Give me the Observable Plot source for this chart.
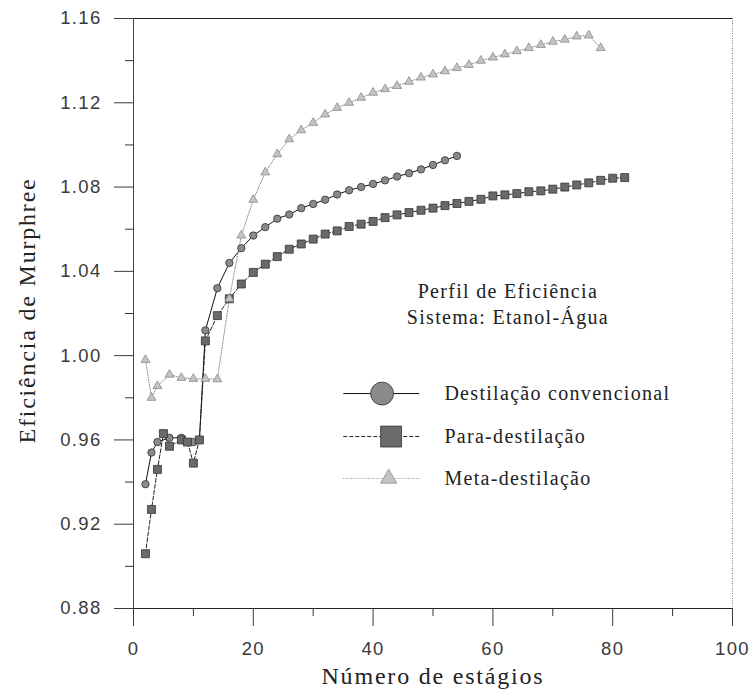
<!DOCTYPE html>
<html><head><meta charset="utf-8">
<script src="https://cdn.jsdelivr.net/npm/d3@7"></script>
<script src="https://cdn.jsdelivr.net/npm/@observablehq/plot@0.6"></script>
<style>
body{margin:0;background:#fff}
#chart svg{display:block}
#chart g[font-size="18.5"] text{letter-spacing:1.3px}
#chart g[font-size="20"] text{letter-spacing:1.3px}
#chart g[font-size="24"] text{letter-spacing:1.8px}
</style>
</head><body><div id="chart"></div>
<script>
// ---- data ----
const convStages = [2,3,4,6,8,10,11,12,14,16,18,20,22,24,26,28,30,32,34,36,38,40,42,44,46,48,50,52,54];
const convEff = [0.939,0.954,0.959,0.961,0.961,0.959,0.960,1.012,1.032,1.044,1.051,1.057,1.061,1.065,1.067,1.070,1.072,1.074,1.0765,1.0785,1.0800,1.0815,1.0832,1.0850,1.0866,1.0884,1.0905,1.0927,1.0948];

const paraStages = [2,3,4,5,6,8,9,10,11,12,14,16,18,20,22,24,26,28,30,32,34,36,38,40,42,44,46,48,50,52,54,56,58,60,62,64,66,68,70,72,74,76,78,80,82];
const paraEff = [0.906,0.927,0.946,0.963,0.957,0.960,0.959,0.949,0.960,1.007,1.019,1.027,1.034,1.0395,1.0434,1.047,1.0505,1.053,1.0553,1.0577,1.0592,1.0613,1.0624,1.0637,1.0655,1.0668,1.0679,1.069,1.070,1.0712,1.0722,1.0732,1.0742,1.0758,1.0763,1.0769,1.0778,1.0782,1.079,1.080,1.081,1.082,1.0832,1.0842,1.0845];

const metaStages = [2,3,4,6,8,10,12,14,16,18,20,22,24,26,28,30,32,34,36,38,40,42,44,46,48,50,52,54,56,58,60,62,64,66,68,70,72,74,76,78];
const metaEff = [0.998,0.980,0.9856,0.991,0.9895,0.989,0.989,0.9888,1.027,1.057,1.074,1.087,1.0956,1.1027,1.107,1.1105,1.1145,1.1176,1.120,1.1224,1.1248,1.1265,1.128,1.130,1.132,1.1335,1.135,1.1365,1.138,1.140,1.1415,1.143,1.1445,1.146,1.1475,1.149,1.150,1.1515,1.152,1.146];

const yMajorTicks = [0.88,0.92,0.96,1.00,1.04,1.08,1.12,1.16];
const yMinorTicks = [0.90,0.94,0.98,1.02,1.06,1.10,1.14];
const xMajorTicks = [0,20,40,60,80,100];
const xMinorTicks = [10,30,50,70,90];

const seriesNames = ["Destilação convencional","Para-destilação","Meta-destilação"];
const annotationLines = ["Perfil de Eficiência","Sistema: Etanol-Água"];
const xTitle = "Número de estágios";
const yTitle = "Eficiência de Murphree";

// ---- build ----
const zip = (xs, ys) => xs.map((x, i) => ({x, y: ys[i]}));
const conv = zip(convStages, convEff);
const para = zip(paraStages, paraEff);
const meta = zip(metaStages, metaEff);

const serif = "'Liberation Serif','Times New Roman',serif";
const sans = "'Liberation Sans',Arial,sans-serif";

const styles = [
  {stroke: "#111", dash: null, symbol: "circle", r: 3.7, fill: "#8a8a8a", mstroke: "#333", lr: 11.5},
  {stroke: "#222", dash: "4,2", symbol: "square", r: 4.5, fill: "#6a6a6a", mstroke: "#333", lr: 11.8},
  {stroke: "#8c8c8c", dash: "1,1.5", symbol: "triangle", r: 3.3, fill: "#c4c4c4", mstroke: "#8a8a8a", lr: 6}
];
const seriesData = [conv, para, meta];

// legend / annotation layout (data units)
const legendY = [0.982, 0.9616, 0.9417];
const legendLine = [35.1, 47.8];
const legendMarkX = [41.5, 43.0, 42.6];
const legendTextX = 51.9;
const annotX = 62.5;
const annotY = [1.0304, 1.0181];

const marks = [
  // frame
  Plot.ruleY([1.16], {stroke: "#222", strokeWidth: 1}),
  Plot.ruleY([0.88], {stroke: "#222", strokeWidth: 1}),
  Plot.ruleX([0], {stroke: "#444", strokeWidth: 1}),
  Plot.ruleX([100], {stroke: "#777", strokeWidth: 1, strokeDasharray: "1,1.5"}),
  // axes
  Plot.axisY(yMajorTicks, {tickSize: 19, tickPadding: 13, tickFormat: d => d.toFixed(2), fontSize: 18.5, fontFamily: sans, label: null, color: "#3a3a3a"}),
  Plot.axisY(yMinorTicks, {tickSize: 8, tickFormat: () => "", label: null, color: "#333"}),
  Plot.axisX(xMajorTicks, {tickSize: 18, tickPadding: 15, tickFormat: d => String(d), fontSize: 18.5, fontFamily: sans, label: null, color: "#3a3a3a"}),
  Plot.axisX(xMinorTicks, {tickSize: 8, tickFormat: () => "", label: null, color: "#333"}),
];

seriesData.forEach((data, i) => {
  const s = styles[i];
  marks.push(Plot.line(data, {x: "x", y: "y", stroke: s.stroke, strokeWidth: 1, strokeDasharray: s.dash}));
});
seriesData.forEach((data, i) => {
  const s = styles[i];
  marks.push(Plot.dot(data, {x: "x", y: "y", symbol: s.symbol, r: s.r, fill: s.fill, stroke: s.mstroke, strokeWidth: 0.8}));
});

// legend
seriesNames.forEach((name, i) => {
  const s = styles[i];
  marks.push(Plot.ruleY([legendY[i]], {x1: legendLine[0], x2: legendLine[1], stroke: s.stroke, strokeWidth: 1, strokeDasharray: s.dash}));
  marks.push(Plot.dot([legendY[i]], {x: () => legendMarkX[i], y: d => d, symbol: s.symbol, r: s.lr, fill: s.fill, stroke: s.mstroke, strokeWidth: 0.8}));
});
marks.push(Plot.text(seriesNames, {x: () => legendTextX, y: (d, i) => legendY[i], text: d => d, textAnchor: "start", fontSize: 20, fontFamily: serif, fill: "#222"}));

// annotation
marks.push(Plot.text(annotationLines, {x: () => annotX, y: (d, i) => annotY[i], text: d => d, textAnchor: "middle", fontSize: 20, fontFamily: serif, fill: "#222"}));

// axis titles
marks.push(Plot.text([xTitle], {frameAnchor: "bottom", dy: 68, lineAnchor: "middle", textAnchor: "middle", text: d => d, fontSize: 24, fontFamily: serif, fill: "#222"}));
marks.push(Plot.text([yTitle], {frameAnchor: "left", dx: -106, dy: -3, rotate: -90, textAnchor: "middle", lineAnchor: "middle", text: d => d, fontSize: 24, fontFamily: serif, fill: "#222"}));

const chart = Plot.plot({
  width: 752,
  height: 692,
  marginLeft: 133,
  marginRight: 20,
  marginTop: 18,
  marginBottom: 84,
  x: {domain: [0, 100]},
  y: {domain: [0.88, 1.16]},
  style: {background: "#fff", overflow: "visible"},
  marks
});

document.getElementById("chart").appendChild(chart);
</script>
</body></html>
